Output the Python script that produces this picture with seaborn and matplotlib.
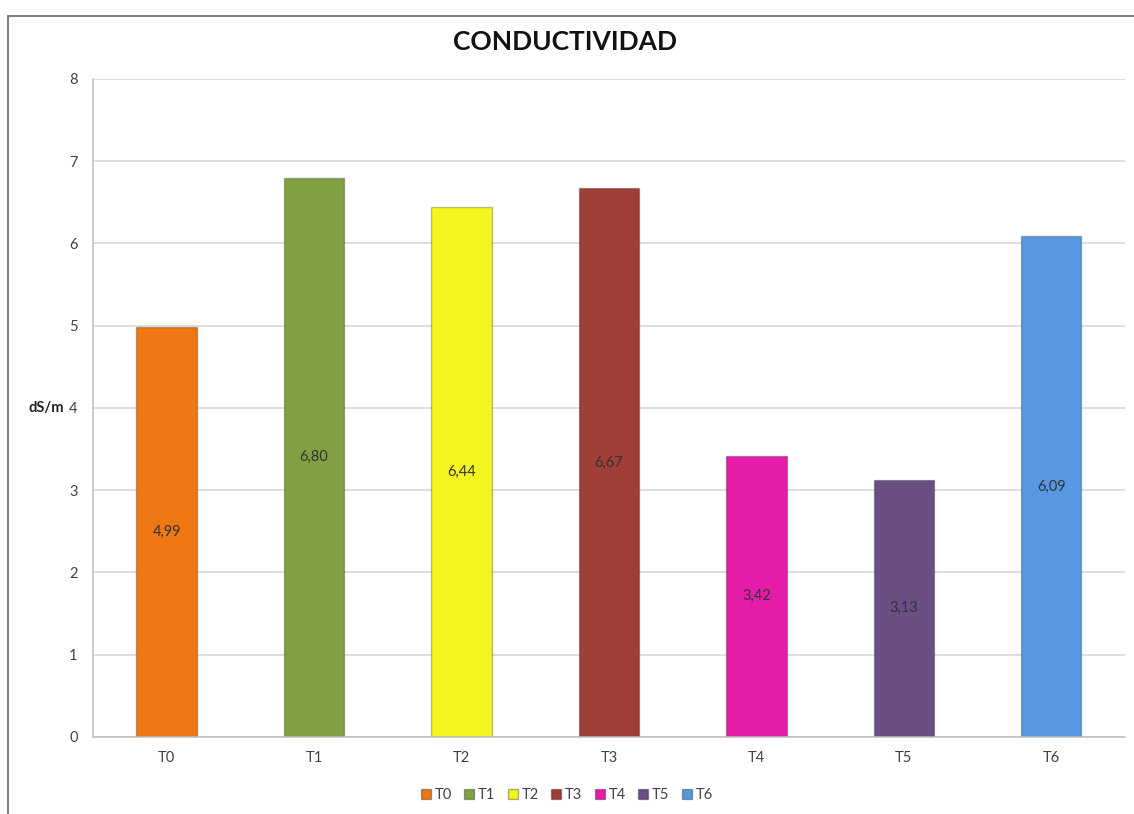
import matplotlib
matplotlib.use("Agg")
import matplotlib.pyplot as plt
from matplotlib.patches import Rectangle
from matplotlib.lines import Line2D
import seaborn as sns
import pandas as pd

# Treatments and measured electrical conductivity (dS/m)
treatments = ["T0", "T1", "T2", "T3", "T4", "T5", "T6"]
conductivity = [4.99, 6.80, 6.44, 6.67, 3.42, 3.13, 6.09]
bar_colors = ["#F07814", "#80A042", "#F4F41E", "#A03E38", "#E41CA8", "#6A4E84", "#5898E0"]
y_ticks = [0, 1, 2, 3, 4, 5, 6, 7, 8]

sns.set_theme(style="white")
plt.rcParams["font.family"] = ["Lato", "DejaVu Sans"]

df = pd.DataFrame({"trat": treatments, "val": conductivity})

fig = plt.figure(figsize=(11.34, 8.14), dpi=100)
ax = fig.add_axes([0.082, 0.0946, 0.910, 0.8084])

sns.barplot(data=df, x="trat", y="val", hue="trat", palette=bar_colors,
            width=0.41, dodge=False, legend=False, ax=ax,
            edgecolor="#00000040", linewidth=1.0, saturation=1)

# Value labels centred inside each bar
for bar, v in zip(ax.patches, conductivity):
    ax.text(bar.get_x() + bar.get_width() / 2, v / 2, f"{v:.2f}".replace(".", ","),
            ha="center", va="center", fontsize=10.5, color="#333333")

ax.set_ylim(0, 8)
ax.set_xlim(-0.5, len(treatments) - 0.5)
ax.set_yticks(y_ticks)
ax.set_yticklabels([str(t) for t in y_ticks])
ax.tick_params(axis="both", length=0, labelsize=10.5, colors="#404040")
ax.tick_params(axis="y", pad=11)
ax.tick_params(axis="x", pad=10)
ax.yaxis.grid(True, color="#D4D4D4", linewidth=1.1)
ax.set_axisbelow(True)
for side in ["top", "right"]:
    ax.spines[side].set_visible(False)
for side in ["left", "bottom"]:
    ax.spines[side].set_color("#BEBEBE")
    ax.spines[side].set_linewidth(1.1)

ax.set_xlabel("")
ax.set_ylabel("dS/m", rotation=0, fontsize=10.5, fontweight="bold", color="#222222",
              ha="right", va="center")
ax.yaxis.set_label_coords(-0.028, 0.5)

fig.text(0.498, 0.948, "CONDUCTIVIDAD", ha="center", va="center",
         fontsize=19, fontweight="bold", color="#111111")

# Legend with square swatches
handles = [Line2D([0], [0], marker="s", linestyle="", markersize=7,
                  markerfacecolor=c, markeredgecolor="#00000050") for c in bar_colors]
fig.legend(handles, treatments, loc="center", bbox_to_anchor=(0.499, 0.023),
           ncol=len(treatments), frameon=False, fontsize=10.5, handletextpad=0.1,
           columnspacing=0.7, handlelength=1.0, labelcolor="#404040")

# Chart frame
fig.patches.append(Rectangle((8 / 1134, -0.2), 1.5, 1.19 - 8 / 814, transform=fig.transFigure,
                             fill=False, edgecolor="#808080", linewidth=1.5))

fig.savefig("out.png", dpi=100, facecolor="white")
